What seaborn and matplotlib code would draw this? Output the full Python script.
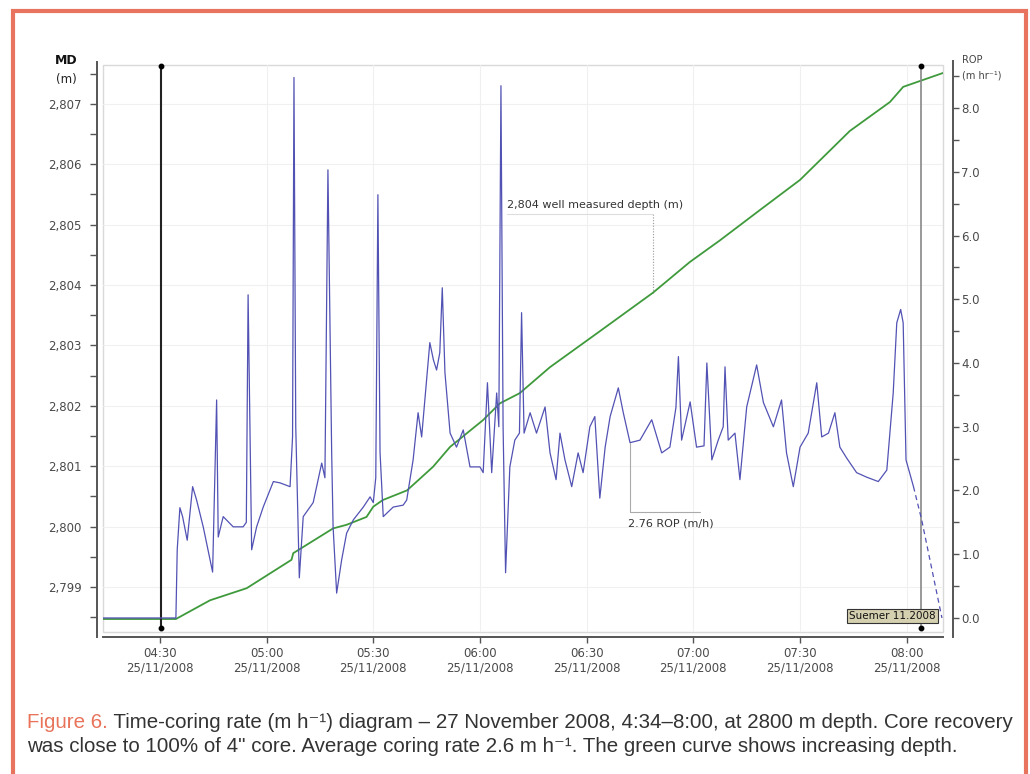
import numpy as np
import pandas as pd
import matplotlib
matplotlib.use("Agg")
import matplotlib.pyplot as plt
import matplotlib.dates as mdates
from matplotlib.patches import Rectangle
from matplotlib.ticker import MultipleLocator, FuncFormatter
import seaborn as sns

# ---------------- data ----------------
START = "2008-11-25 04:30:00"

# measured depth (green curve): minutes after 04:30, MD in metres
md_minutes = [-16.0, 4.5, 14.1, 24.4, 37.0, 37.5, 48.7, 52.5, 58.1, 60.0, 62.7,
              69.5, 76.8, 81.6, 90.8, 95.6, 101.2, 109.7, 122.9, 138.6, 149.0,
              157.5, 168.7, 180.0, 194.0, 205.3, 209.0, 212.9, 220.2]
md_values = [2798.47, 2798.47, 2798.78, 2798.98, 2799.45, 2799.56, 2799.97, 2800.03,
             2800.16, 2800.33, 2800.44, 2800.60, 2800.99, 2801.32, 2801.76, 2802.04,
             2802.21, 2802.64, 2803.20, 2803.87, 2804.38, 2804.74, 2805.24, 2805.74,
             2806.55, 2807.03, 2807.28, 2807.36, 2807.51]

# rate of penetration (blue curve): minutes after 04:30, ROP in m/h
rop_minutes = [-16.0, 4.5, 4.87, 5.62, 6.38, 7.68, 9.2, 10.32, 12.18, 14.82, 15.95,
               16.4, 17.8, 20.6, 23.4, 24.3, 24.8, 25.8, 27.2, 29.05, 31.9, 33.75,
               36.6, 37.3, 37.7, 38.2, 39.2, 40.3, 43.1, 45.5, 46.4, 47.25, 48.3,
               48.7, 49.7, 51.1, 52.5, 54.4, 57.2, 59.1, 60.0, 60.7, 61.3, 61.9,
               62.8, 65.6, 68.4, 69.4, 71.2, 72.6, 73.6, 75.9, 76.9, 77.8, 78.7,
               79.4, 80.15, 81.6, 83.4, 85.3, 87.2, 90.0, 90.9, 92.1, 93.3, 94.7,
               95.3, 95.9, 96.5, 97.2, 98.4, 99.8, 101.1, 101.7, 102.4, 104.1,
               105.9, 108.3, 109.7, 111.4, 112.5, 113.9, 115.8, 117.6, 119.0,
               120.9, 122.3, 123.7, 125.2, 126.6, 128.9, 130.3, 132.2, 135.0,
               138.3, 141.1, 143.4, 145.1, 145.8, 146.7, 149.1, 150.9, 153.0,
               153.8, 155.2, 157.0, 158.4, 158.9, 159.8, 161.7, 163.1, 165.0,
               167.8, 169.7, 172.5, 174.8, 176.2, 178.1, 180.0, 182.3, 184.7,
               186.1, 188.0, 189.8, 191.2, 193.1, 195.9, 198.7, 202.0, 204.4,
               206.2, 207.2, 208.3, 209.0, 209.8, 211.9]
rop_values = [0.0, 0.0, 1.07, 1.73, 1.59, 1.22, 2.06, 1.85, 1.43, 0.72, 3.42,
              1.27, 1.59, 1.43, 1.43, 1.50, 5.07, 1.07, 1.43, 1.74, 2.14, 2.12,
              2.06, 2.84, 8.48, 3.00, 0.63, 1.59, 1.81, 2.43, 2.20, 7.03, 2.59,
              1.43, 0.39, 0.91, 1.33, 1.54, 1.74, 1.90, 1.81, 2.20, 6.64, 2.60,
              1.59, 1.74, 1.77, 1.85, 2.48, 3.22, 2.84, 4.32, 4.05, 3.89, 4.16,
              5.18, 3.85, 2.90, 2.68, 2.95, 2.37, 2.37, 2.28, 3.69, 2.28, 3.53,
              3.00, 8.35, 3.00, 0.71, 2.37, 2.79, 2.90, 4.79, 2.90, 3.22,
              2.90, 3.31, 2.59, 2.17, 2.90, 2.48, 2.06, 2.59, 2.28,
              3.00, 3.16, 1.88, 2.68, 3.16, 3.61, 3.22, 2.75, 2.79,
              3.11, 2.59, 2.68, 3.30, 4.10, 2.79, 3.39, 2.68, 2.70,
              4.00, 2.48, 2.79, 3.00, 3.94, 2.79, 2.90, 2.17, 3.31,
              3.97, 3.38, 3.00, 3.42, 2.59, 2.06, 2.68, 2.90, 3.69,
              2.84, 2.90, 3.22, 2.68, 2.51, 2.28, 2.21, 2.14, 2.32,
              3.53, 4.63, 4.84, 4.63, 2.48, 2.06]
# extrapolated tail after the last cursor (dashed)
rop_tail_minutes = [211.9, 214.2, 219.9]
rop_tail_values = [2.06, 1.54, 0.0]

cursor_minutes = [0.3, 214.0]
cursor_label = "Suemer 11.2008"
depth_note = "2,804 well measured depth (m)"
rop_note = "2.76 ROP (m/h)"
md_ticks = [2799, 2800, 2801, 2802, 2803, 2804, 2805, 2806, 2807]
rop_ticks = [0, 1, 2, 3, 4, 5, 6, 7, 8]
caption_head = "Figure 6."
caption_line1 = " Time-coring rate (m h\u207b\u00b9) diagram \u2013 27 November 2008, 4:34\u20138:00, at 2800 m depth. Core recovery"
caption_line2 = "was close to 100% of 4\u02ba core. Average coring rate 2.6 m h\u207b\u00b9. The green curve shows increasing depth."

# ---------------- figure ----------------
sns.set_style("white")
plt.rcParams["font.family"] = ["DejaVu Sans"]

W, H = 1030, 774
fig = plt.figure(figsize=(W / 100, H / 100), dpi=100)
fig.patch.set_facecolor("white")

base = pd.Timestamp(START)
to_time = lambda m: base + pd.to_timedelta(np.asarray(m, dtype=float), unit="min")

df_md = pd.DataFrame({"time": to_time(md_minutes), "MD": md_values})
df_rop = pd.DataFrame({"time": to_time(rop_minutes), "ROP": rop_values})
df_tail = pd.DataFrame({"time": to_time(rop_tail_minutes), "ROP": rop_tail_values})

ax_l, ax_r, ax_t, ax_b = 103, 943, 65, 632
ax = fig.add_axes([ax_l / W, 1 - ax_b / H, (ax_r - ax_l) / W, (ax_b - ax_t) / H])
ax2 = ax.twinx()

GREEN = "#3f9a3c"
BLUE = "#5252b4"
AXC = "#555555"

sns.lineplot(data=df_md, x="time", y="MD", ax=ax, color=GREEN, lw=1.3,
             estimator=None, sort=False, zorder=3)
sns.lineplot(data=df_rop, x="time", y="ROP", ax=ax2, color=BLUE, lw=0.9,
             estimator=None, sort=False, zorder=2)
sns.lineplot(data=df_tail, x="time", y="ROP", ax=ax2, color=BLUE, lw=0.9,
             estimator=None, sort=False, linestyle=(0, (4, 3)), zorder=2)

ax.set_xlim(base + pd.Timedelta(minutes=-16.0), base + pd.Timedelta(minutes=220.2))
ax.set_ylim(2798.255, 2807.642)
ax2.set_ylim(-0.22, 8.675)
for a in (ax, ax2):
    a.set_xlabel("")
    a.set_ylabel("")

# x axis: dates
ax.xaxis.set_major_locator(mdates.MinuteLocator(byminute=[0, 30]))
ax.xaxis.set_major_formatter(mdates.DateFormatter("%H:%M\n%d/%m/%Y"))

# y axes ticks
ax.set_yticks(md_ticks)
ax.yaxis.set_minor_locator(MultipleLocator(0.5))
ax.yaxis.set_major_formatter(FuncFormatter(lambda v, p: f"{v:,.0f}"))
ax2.set_yticks(rop_ticks)
ax2.yaxis.set_minor_locator(MultipleLocator(0.5))
ax2.yaxis.set_major_formatter(FuncFormatter(lambda v, p: f"{v:.1f}"))

ax.tick_params(axis="y", which="both", direction="out", length=5, width=1.0,
               color=AXC, labelcolor="#4a4a4a", labelsize=8.5, pad=6, left=True)
ax.tick_params(axis="x", which="major", direction="out", length=4, width=1.0,
               color=AXC, labelcolor="#4a4a4a", labelsize=8.5, pad=3, bottom=True)
ax2.tick_params(axis="y", which="both", direction="out", length=4, width=1.0,
                color=AXC, labelcolor="#4a4a4a", labelsize=8.5, pad=2, right=True)
for lab in ax.get_xticklabels():
    lab.set_linespacing(1.2)

# spines
for s in ("top", "right"):
    ax.spines[s].set_visible(False)
ax.spines["left"].set_position(("outward", 4.3))
ax.spines["bottom"].set_position(("outward", 3.6))
for s in ("left", "bottom"):
    ax.spines[s].set_color(AXC)
    ax.spines[s].set_linewidth(1.4)
ax.spines["left"].set_bounds(2798.17, 2807.69)
for s in ("top", "left", "bottom"):
    ax2.spines[s].set_visible(False)
ax2.spines["right"].set_position(("outward", 7.2))
ax2.spines["right"].set_color(AXC)
ax2.spines["right"].set_linewidth(1.4)
ax2.spines["right"].set_bounds(-0.30, 8.73)

# inner light frame and faint grid
ax.add_patch(Rectangle((0, 0), 1, 1, transform=ax.transAxes, fill=False,
                       ec="#d9d9d9", lw=1.0, zorder=0.5, clip_on=False))
ax.grid(True, which="major", color="#f0f0f0", lw=0.8)
ax.set_axisbelow(True)

# cursors
ctimes = to_time(cursor_minutes)
xt = ax.get_xaxis_transform()
ax.axvline(ctimes[0], ymin=0.007, ymax=0.998, color="#222222", lw=1.5, zorder=4)
ax.axvline(ctimes[1], ymin=0.007, ymax=0.998, color="#888888", lw=1.2, zorder=4)
for ct in ctimes:
    ax.plot([ct, ct], [0.998, 0.007], transform=xt, ls="none", marker="o",
            ms=3.2, color="black", zorder=5, clip_on=False)

# cursor label box
ax2.text(to_time([205.9])[0], 0.03, cursor_label, ha="center", va="center",
         fontsize=7.5, color="#111111", zorder=6,
         bbox=dict(boxstyle="square,pad=0.2", fc="#d5d0b0", ec="#333333", lw=0.8))

# depth note
t_dn = to_time([138.6])[0]
t_dt = to_time([97.6])[0]
ax.plot([t_dn, t_dn], [2803.87, 2805.18], color="#999999", lw=0.8, ls=(0, (1, 1.5)), zorder=2)
ax.plot([t_dt, t_dn], [2805.18, 2805.18], color="#dddddd", lw=0.8, zorder=2)
ax.text(t_dt, 2805.33, depth_note, ha="left", va="center", fontsize=8, color="#333333", zorder=6)

# ROP note
t_rn = to_time([132.2])[0]
t_re = to_time([151.9])[0]
ax2.plot([t_rn, t_rn], [2.75, 1.66], color="#aaaaaa", lw=0.8, zorder=2)
ax2.plot([t_rn, t_re], [1.66, 1.66], color="#aaaaaa", lw=0.8, zorder=2)
ax2.text(to_time([131.6])[0], 1.48, rop_note, ha="left", va="center", fontsize=8,
         color="#333333", zorder=6)

# axis titles
fig.text(66 / W, 1 - 61 / H, "MD", ha="center", va="center", fontsize=9,
         fontweight="bold", color="#111111")
fig.text(66 / W, 1 - 79 / H, "(m)", ha="center", va="center", fontsize=8.5, color="#222222")
fig.text(962 / W, 1 - 60 / H, "ROP", ha="left", va="center", fontsize=7, color="#444444")
fig.text(962 / W, 1 - 76 / H, "(m hr\u207b\u00b9)", ha="left", va="center", fontsize=7,
         color="#444444")

# caption
cap_family = ["Liberation Sans", "DejaVu Sans"]
cs = 12.0
c1 = fig.text(27 / W, 1 - 722 / H, caption_head, color="#e8735a", fontsize=cs,
              family=cap_family, ha="left", va="center")
c2 = fig.text(80 / W, 1 - 722 / H, caption_line1, color="#333333", fontsize=cs,
              family=cap_family, ha="left", va="center")
c3 = fig.text(27 / W, 1 - 746 / H, caption_line2, color="#333333", fontsize=cs,
              family=cap_family, ha="left", va="center")
fig.canvas.draw()
r = fig.canvas.get_renderer()
w = c1.get_window_extent(r).width + c2.get_window_extent(r).width
cs2 = cs * 986.0 / w
for c in (c1, c2, c3):
    c.set_fontsize(cs2)
fig.canvas.draw()
w1 = c1.get_window_extent(r).width
c2.set_x((27 + w1) / W)

# orange frame
fig.patches.append(Rectangle((13 / W, -0.1), (1026 - 13) / W, 1 - 11 / H + 0.1,
                             transform=fig.transFigure, fill=False, ec="#e8735f", lw=3.0))

fig.savefig("out.png", dpi=100, facecolor="white")
